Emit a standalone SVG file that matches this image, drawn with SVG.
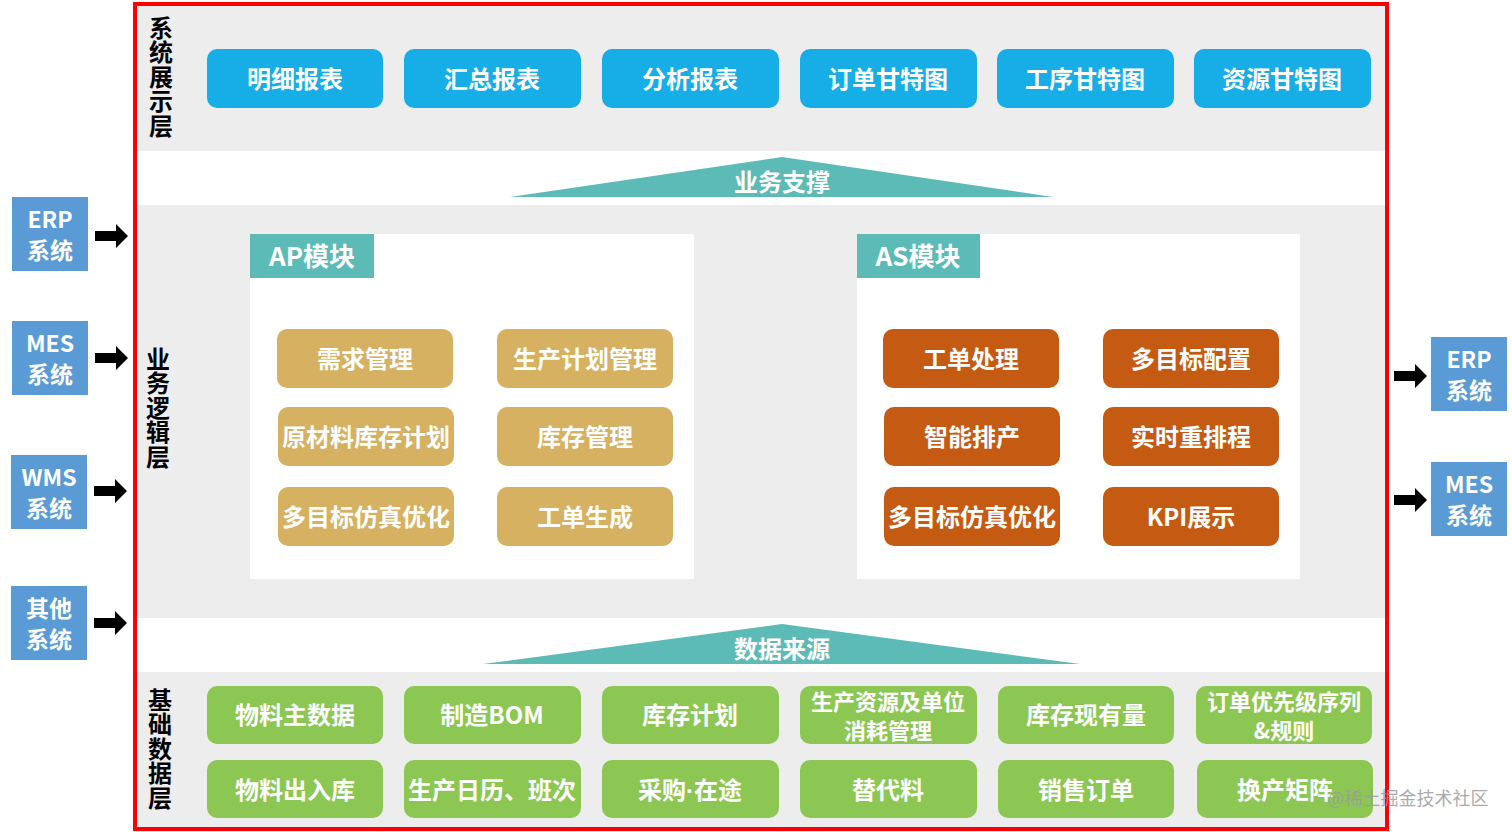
<svg xmlns="http://www.w3.org/2000/svg" width="1512" height="832" viewBox="0 0 1512 832">
<style>
text{font-family:"Noto Sans CJK SC","Noto Sans",sans-serif;font-weight:bold;text-anchor:middle}
.w{fill:#fff}
.lbl{fill:#000;font-size:24px;writing-mode:vertical-rl;letter-spacing:0.6px}
.b24{font-size:24px}
.b22{font-size:22px}
.s23{font-size:23px}
.top{fill:#17ADE6}
.ap{fill:#D5B161}
.as{fill:#C55B13}
.gr{fill:#8DC753}
.sys{fill:#5B9BD5}
.teal{fill:#5DBBB7}
.arr{fill:#000}
</style>
<defs>
<polygon id="arrow" points="0,-5 21,-5 21,-12 33,0 21,12 21,5 0,5"/>
</defs>
<rect x="0" y="0" width="1512" height="832" fill="#fff"/>
<g id="bands">
<rect x="136" y="5" width="1250" height="146" fill="#EDEDED"/>
<rect x="136" y="205" width="1250" height="413" fill="#EDEDED"/>
<rect x="136" y="672" width="1250" height="156" fill="#EDEDED"/>
</g>
<g id="frame"><rect x="135" y="4" width="1252" height="825" fill="none" stroke="#FF0000" stroke-width="4"/></g>

<g id="layer-labels">
<text class="lbl" x="161" y="77">系统展示层</text>
<text class="lbl" x="158" y="408">业务逻辑层</text>
<text class="lbl" x="160" y="749">基础数据层</text>
</g>

<g id="display-layer">
<g id="n-mingxi"><rect class="top" x="207" y="49" width="176" height="59" rx="10"/><text class="w b24" x="295" y="88">明细报表</text></g>
<g id="n-huizong"><rect class="top" x="404" y="49" width="177" height="59" rx="10"/><text class="w b24" x="492" y="88">汇总报表</text></g>
<g id="n-fenxi"><rect class="top" x="602" y="49" width="177" height="59" rx="10"/><text class="w b24" x="690" y="88">分析报表</text></g>
<g id="n-dingdan-gantt"><rect class="top" x="800" y="49" width="177" height="59" rx="10"/><text class="w b24" x="888" y="88">订单甘特图</text></g>
<g id="n-gongxu-gantt"><rect class="top" x="997" y="49" width="177" height="59" rx="10"/><text class="w b24" x="1085" y="88">工序甘特图</text></g>
<g id="n-ziyuan-gantt"><rect class="top" x="1194" y="49" width="177" height="59" rx="10"/><text class="w b24" x="1282" y="88">资源甘特图</text></g>
</g>

<g id="support">
<polygon class="teal" points="782,157 1053,197 510,197"/>
<text class="w b24" x="782" y="191">业务支撑</text>
</g>

<g id="ap-module">
<rect x="250" y="234" width="444" height="345" fill="#fff"/>
<rect class="teal" x="250" y="234" width="124" height="44"/>
<text class="w" x="312" y="266" style="font-size:26px">AP模块</text>
<g id="n-xuqiu"><rect class="ap" x="277" y="329" width="176" height="59" rx="10"/><text class="w b24" x="365" y="368">需求管理</text></g>
<g id="n-shengchan-jihua"><rect class="ap" x="497" y="329" width="176" height="59" rx="10"/><text class="w b24" x="585" y="368">生产计划管理</text></g>
<g id="n-yuancailiao"><rect class="ap" x="278" y="407" width="176" height="59" rx="10"/><text class="w b24" x="366" y="446">原材料库存计划</text></g>
<g id="n-kucun-guanli"><rect class="ap" x="497" y="407" width="176" height="59" rx="10"/><text class="w b24" x="585" y="446">库存管理</text></g>
<g id="n-ap-fangzhen"><rect class="ap" x="278" y="487" width="176" height="59" rx="10"/><text class="w b24" x="366" y="526">多目标仿真优化</text></g>
<g id="n-gongdan-shengcheng"><rect class="ap" x="497" y="487" width="176" height="59" rx="10"/><text class="w b24" x="585" y="526">工单生成</text></g>
</g>

<g id="as-module">
<rect x="857" y="234" width="443" height="345" fill="#fff"/>
<rect class="teal" x="857" y="234" width="123" height="44"/>
<text class="w" x="918" y="266" style="font-size:26px">AS模块</text>
<g id="n-gongdan-chuli"><rect class="as" x="883" y="329" width="176" height="59" rx="10"/><text class="w b24" x="971" y="368">工单处理</text></g>
<g id="n-peizhi"><rect class="as" x="1103" y="329" width="176" height="59" rx="10"/><text class="w b24" x="1191" y="368">多目标配置</text></g>
<g id="n-zhineng"><rect class="as" x="884" y="407" width="176" height="59" rx="10"/><text class="w b24" x="972" y="446">智能排产</text></g>
<g id="n-shishi"><rect class="as" x="1103" y="407" width="176" height="59" rx="10"/><text class="w b24" x="1191" y="446">实时重排程</text></g>
<g id="n-as-fangzhen"><rect class="as" x="884" y="487" width="176" height="59" rx="10"/><text class="w b24" x="972" y="526">多目标仿真优化</text></g>
<g id="n-kpi"><rect class="as" x="1103" y="487" width="176" height="59" rx="10"/><text class="w b24" x="1191" y="526">KPI展示</text></g>
</g>

<g id="source">
<polygon class="teal" points="782,624 1080,664 483,664"/>
<text class="w b24" x="782" y="658">数据来源</text>
</g>

<g id="data-layer">
<g id="n-wuliao-zhu"><rect class="gr" x="207" y="686" width="176" height="58" rx="10"/><text class="w b24" x="295" y="724">物料主数据</text></g>
<g id="n-bom"><rect class="gr" x="404" y="686" width="177" height="58" rx="10"/><text class="w b24" x="492" y="724">制造BOM</text></g>
<g id="n-kucun-jihua"><rect class="gr" x="602" y="686" width="177" height="58" rx="10"/><text class="w b24" x="690" y="724">库存计划</text></g>
<g id="n-ziyuan"><rect class="gr" x="800" y="686" width="177" height="58" rx="10"/><text class="w b22" x="888" y="710">生产资源及单位<tspan x="888" y="739">消耗管理</tspan></text></g>
<g id="n-xianyou"><rect class="gr" x="998" y="686" width="176" height="58" rx="10"/><text class="w b24" x="1086" y="724">库存现有量</text></g>
<g id="n-youxian"><rect class="gr" x="1196" y="686" width="176" height="58" rx="10"/><text class="w b22" x="1284" y="710">订单优先级序列<tspan x="1284" y="739">&amp;规则</tspan></text></g>
<g id="n-churuku"><rect class="gr" x="207" y="760" width="176" height="58" rx="10"/><text class="w b24" x="295" y="799">物料出入库</text></g>
<g id="n-rili"><rect class="gr" x="404" y="760" width="177" height="58" rx="10"/><text class="w b24" x="492" y="799">生产日历、班次</text></g>
<g id="n-caigou"><rect class="gr" x="602" y="760" width="177" height="58" rx="10"/><text class="w b24" x="690" y="799">采购<tspan style="font-family:'Liberation Sans',sans-serif">·</tspan>在途</text></g>
<g id="n-tidai"><rect class="gr" x="800" y="760" width="177" height="58" rx="10"/><text class="w b24" x="888" y="799">替代料</text></g>
<g id="n-xiaoshou"><rect class="gr" x="998" y="760" width="176" height="58" rx="10"/><text class="w b24" x="1086" y="799">销售订单</text></g>
<g id="n-huanchan"><rect class="gr" x="1197" y="760" width="176" height="58" rx="10"/><text class="w b24" x="1285" y="799">换产矩阵</text></g>
</g>

<g id="inputs">
<g id="n-erp-in"><rect class="sys" x="12" y="197" width="76" height="74"/><text class="w s23" x="50" y="228">ERP<tspan x="50" y="259">系统</tspan></text></g>
<g id="n-mes-in"><rect class="sys" x="12" y="321" width="76" height="74"/><text class="w s23" x="50" y="352">MES<tspan x="50" y="383">系统</tspan></text></g>
<g id="n-wms-in"><rect class="sys" x="11" y="455" width="76" height="74"/><text class="w s23" x="49" y="486">WMS<tspan x="49" y="517">系统</tspan></text></g>
<g id="n-other-in"><rect class="sys" x="11" y="586" width="76" height="74"/><text class="w s23" x="49" y="617">其他<tspan x="49" y="648">系统</tspan></text></g>
</g>
<g id="outputs">
<g id="n-erp-out"><rect class="sys" x="1431" y="337" width="76" height="74"/><text class="w s23" x="1469" y="368">ERP<tspan x="1469" y="399">系统</tspan></text></g>
<g id="n-mes-out"><rect class="sys" x="1431" y="462" width="76" height="74"/><text class="w s23" x="1469" y="493">MES<tspan x="1469" y="524">系统</tspan></text></g>
</g>

<g id="connectors">
<use href="#arrow" class="arr" x="95" y="236"/>
<use href="#arrow" class="arr" x="95" y="358"/>
<use href="#arrow" class="arr" x="94" y="491"/>
<use href="#arrow" class="arr" x="94" y="623"/>
<use href="#arrow" class="arr" x="1394" y="376"/>
<use href="#arrow" class="arr" x="1394" y="500"/>
</g>

<text x="1408" y="805" style="font-size:18px;font-weight:normal;fill:#9A9A9A;fill-opacity:0.85">@稀土掘金技术社区</text>
</svg>
